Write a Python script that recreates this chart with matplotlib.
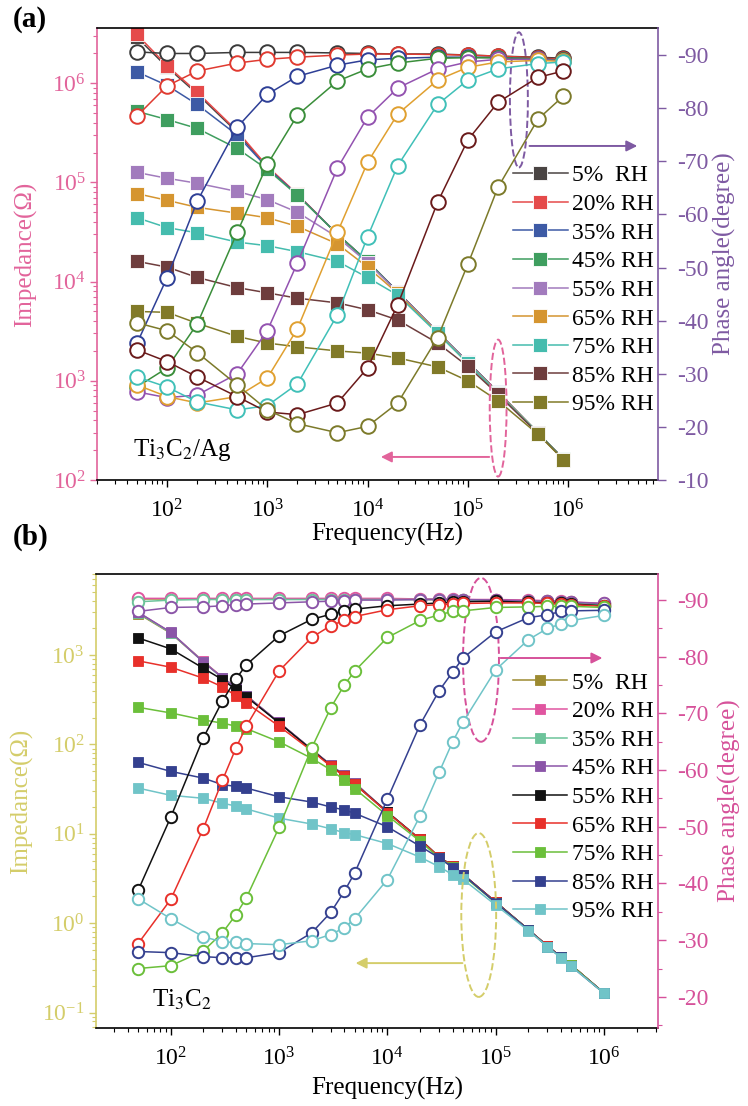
import matplotlib.pyplot as plt
from matplotlib.patches import Ellipse
from matplotlib.ticker import LogLocator, MultipleLocator, NullFormatter, NullLocator

plt.rcParams['font.family'] = ['Liberation Serif', 'DejaVu Serif']
plt.rcParams['mathtext.fontset'] = 'stix'
plt.rcParams['axes.unicode_minus'] = False

labels = ['5%  RH', '20% RH', '35% RH', '45% RH', '55% RH',
          '65% RH', '75% RH', '85% RH', '95% RH']

# ---- (a) Ti3C2/Ag ----
freq_a = [50, 100, 200, 500, 1e3, 2e3, 5e3, 1e4, 2e4, 5e4, 1e5, 2e5, 5e5, 9e5]

imp_a = [
    [2.9e6, 1.45e6, 7.8e5, 3.2e5, 1.42e5, 7.5e4, 3.0e4, 1.6e4, 7.9e3, 3.1e3, 1.55e3, 7.7e2, 3.0e2, 1.63e2],
    [3.1e6, 1.5e6, 8.1e5, 3.3e5, 1.45e5, 7.6e4, 3.0e4, 1.6e4, 7.9e3, 3.1e3, 1.55e3, 7.7e2, 3.0e2, 1.63e2],
    [1.3e6, 9.5e5, 6.1e5, 3.0e5, 1.4e5, 7.5e4, 3.0e4, 1.6e4, 7.9e3, 3.1e3, 1.55e3, 7.7e2, 3.0e2, 1.63e2],
    [5.2e5, 4.3e5, 3.5e5, 2.2e5, 1.35e5, 7.4e4, 3.0e4, 1.6e4, 7.8e3, 3.1e3, 1.55e3, 7.6e2, 3.0e2, 1.63e2],
    [1.26e5, 1.1e5, 9.8e4, 8.1e4, 6.7e4, 5.0e4, 2.8e4, 1.55e4, 7.8e3, 3.1e3, 1.55e3, 7.6e2, 3.0e2, 1.62e2],
    [7.7e4, 6.6e4, 5.6e4, 4.9e4, 4.4e4, 3.6e4, 2.4e4, 1.4e4, 7.6e3, 3.05e3, 1.5e3, 7.6e2, 3.0e2, 1.62e2],
    [4.4e4, 3.5e4, 3.1e4, 2.5e4, 2.3e4, 2.0e4, 1.6e4, 1.1e4, 7.3e3, 3.0e3, 1.5e3, 7.5e2, 3.0e2, 1.62e2],
    [1.6e4, 1.4e4, 1.1e4, 8.7e3, 7.7e3, 6.8e3, 6.1e3, 5.2e3, 4.1e3, 2.4e3, 1.4e3, 7.3e2, 2.95e2, 1.6e2],
    [5.0e3, 4.9e3, 3.8e3, 2.8e3, 2.4e3, 2.2e3, 2.0e3, 1.9e3, 1.7e3, 1.38e3, 1.0e3, 6.3e2, 2.9e2, 1.6e2],
]

phase_a = [
    [-90.6, -90.3, -90.3, -90.5, -90.5, -90.5, -90.4, -90.3, -90.2, -90.2, -90.0, -89.8, -89.6, -89.4],
    [-78.5, -84.2, -87.0, -88.5, -89.2, -89.6, -90.0, -90.2, -90.2, -90.1, -90.0, -89.8, -89.5, -89.2],
    [-35.7, -48.1, -62.5, -76.4, -82.6, -86.0, -88.1, -89.1, -89.4, -89.6, -89.6, -89.5, -89.3, -89.0],
    [-27.5, -31.1, -39.4, -56.6, -69.4, -78.7, -85.1, -87.4, -88.5, -89.4, -89.5, -89.5, -89.3, -89.0],
    [-26.6, -25.5, -26.0, -30.0, -38.1, -50.9, -68.7, -78.3, -83.8, -87.4, -88.7, -89.2, -89.2, -88.9],
    [-27.9, -25.7, -24.5, -25.7, -29.2, -38.5, -56.6, -69.8, -78.9, -85.3, -87.7, -88.7, -89.0, -88.8],
    [-29.4, -27.5, -24.7, -23.2, -24.0, -28.1, -41.1, -55.8, -69.2, -80.7, -85.3, -87.4, -88.4, -88.7],
    [-34.5, -32.3, -29.4, -25.7, -22.8, -22.3, -24.5, -31.1, -43.0, -62.3, -74.0, -81.1, -85.8, -87.0],
    [-39.6, -38.1, -34.0, -27.9, -23.2, -20.6, -18.9, -20.1, -24.5, -36.8, -50.6, -65.1, -77.9, -82.3],
]

# ---- (b) Ti3C2 ----
freq_b = [50, 100, 200, 300, 400, 500, 1e3, 2e3, 3e3, 4e3, 5e3, 1e4, 2e4, 3e4, 4e4, 5e4,
          1e5, 2e5, 3e5, 4e5, 5e5, 1e6]

imp_b = [
    [2.9e3, 1.75e3, 8.4e2, 5.6e2, 4.3e2, 3.5e2, 1.75e2, 88, 59, 45, 37, 17.5, 8.7, 5.5, 4.4, 3.5, 1.73, 0.85, 0.56, 0.42, 0.34, 0.166],
    [3.0e3, 1.78e3, 8.5e2, 5.6e2, 4.3e2, 3.5e2, 1.76e2, 88, 59, 45, 37, 17.5, 8.7, 5.5, 4.4, 3.5, 1.73, 0.85, 0.56, 0.42, 0.34, 0.166],
    [2.95e3, 1.77e3, 8.4e2, 5.5e2, 4.3e2, 3.5e2, 1.75e2, 88, 59, 45, 37, 17.5, 8.7, 5.5, 4.4, 3.5, 1.73, 0.85, 0.56, 0.42, 0.34, 0.166],
    [3.0e3, 1.8e3, 8.3e2, 5.6e2, 4.3e2, 3.5e2, 1.76e2, 88, 59, 45, 37, 17.5, 8.7, 5.5, 4.4, 3.5, 1.73, 0.85, 0.56, 0.42, 0.34, 0.166],
    [1.55e3, 1.17e3, 7.1e2, 5.3e2, 4.1e2, 3.4e2, 1.74e2, 87, 58, 44, 36, 17.5, 8.7, 5.5, 4.4, 3.5, 1.73, 0.85, 0.56, 0.42, 0.34, 0.166],
    [8.6e2, 7.3e2, 5.5e2, 4.4e2, 3.5e2, 2.9e2, 1.6e2, 85, 57, 44, 36, 17.3, 8.7, 5.5, 4.4, 3.5, 1.73, 0.85, 0.56, 0.42, 0.34, 0.166],
    [2.6e2, 2.25e2, 1.88e2, 1.73e2, 1.6e2, 1.5e2, 1.07e2, 70, 52, 40, 32, 16, 8.3, 5.4, 4.3, 3.4, 1.7, 0.85, 0.55, 0.42, 0.34, 0.166],
    [63, 50, 42, 35.5, 34, 32.5, 26, 22.7, 20, 18.5, 17, 12, 7.3, 5.4, 4.2, 3.5, 1.7, 0.85, 0.55, 0.42, 0.33, 0.166],
    [32.5, 27, 25, 22, 20.5, 19, 15, 12.9, 11.4, 10.3, 9.8, 7.8, 5.5, 4.3, 3.5, 3.1, 1.6, 0.83, 0.55, 0.41, 0.33, 0.165],
]

phase_b = [
    [-90.2, -90.2, -90.2, -90.2, -90.2, -90.2, -90.2, -90.2, -90.2, -90.2, -90.2, -90.2, -90.1, -90.1, -90.1, -90.0, -90.0, -89.9, -89.8, -89.7, -89.6, -89.3],
    [-90.3, -90.3, -90.3, -90.3, -90.3, -90.3, -90.3, -90.3, -90.3, -90.3, -90.3, -90.3, -90.2, -90.2, -90.2, -90.1, -90.1, -90.0, -89.9, -89.8, -89.7, -89.4],
    [-89.7, -90.0, -90.1, -90.1, -90.1, -90.1, -90.1, -90.1, -90.1, -90.1, -90.1, -90.1, -90.1, -90.1, -90.0, -90.0, -89.9, -89.8, -89.7, -89.6, -89.5, -89.1],
    [-88.0, -88.7, -88.8, -89.0, -89.2, -89.3, -89.5, -89.7, -89.8, -89.9, -90.0, -90.0, -90.1, -90.1, -90.1, -90.1, -90.0, -89.9, -89.8, -89.7, -89.6, -89.4],
    [-38.8, -51.7, -65.7, -72.2, -76.1, -78.6, -83.7, -86.6, -87.5, -88.1, -88.4, -89.0, -89.3, -89.5, -89.6, -89.7, -89.8, -89.6, -89.5, -89.4, -89.3, -89.0],
    [-29.4, -37.2, -49.7, -58.2, -63.9, -67.8, -77.5, -83.4, -85.5, -86.4, -87.1, -88.3, -89.0, -89.2, -89.3, -89.4, -89.5, -89.5, -89.4, -89.3, -89.2, -88.9],
    [-25.0, -25.5, -28.1, -31.3, -34.5, -37.5, -49.9, -63.9, -71.0, -75.0, -77.5, -83.4, -86.4, -87.4, -88.0, -88.1, -88.7, -88.8, -88.9, -88.9, -88.9, -88.7],
    [-28.0, -27.8, -27.1, -26.9, -26.9, -26.9, -27.8, -31.3, -34.9, -38.6, -41.9, -54.9, -68.0, -74.0, -77.3, -79.8, -84.4, -86.9, -87.4, -88.0, -88.1, -88.2],
    [-37.3, -33.8, -30.6, -29.7, -29.6, -29.4, -29.2, -29.9, -31.0, -32.2, -33.8, -40.7, -51.9, -59.6, -65.0, -68.5, -77.7, -83.0, -85.0, -85.8, -86.4, -87.3],
]

sq_colors_a = ['#4a4443', '#e54a4a', '#3d5aa5', '#3f9e5f', '#a27bbd',
               '#d59530', '#45bcae', '#6e3d3d', '#817a28']
ci_colors_a = ['#3a3a3a', '#e03a30', '#2e3f96', '#3a8e3a', '#9352b0',
               '#e0a030', '#40c0b8', '#6a1a1a', '#7c7a2a']
colors_b = ['#9c8a30', '#e055a0', '#6cc39a', '#8b55a8', '#111111',
            '#e8302a', '#6bbf3a', '#34408f', '#70c4c8']

pink_a, purple_a = '#e2649b', '#7e5aa2'
yellow_b, pink_b = '#d4cd6a', '#d6519a'


def draw_panel(ax, freq, imp, phase, sq_colors, ci_colors, ms_sq, ms_ci, sq_edge):
    ax2 = ax.twinx()
    handles = []
    for i in range(len(labels)):
        mec = sq_edge if sq_edge else sq_colors[i]
        h, = ax.plot(freq, imp[i], '-s', color=sq_colors[i], ms=ms_sq, mec=mec,
                     mew=0.6, lw=1.1, label=labels[i])
        handles.append(h)
        ax2.plot(freq, phase[i], '-o', color=ci_colors[i], mfc='white',
                 ms=ms_ci, mew=1.4, lw=1.1)
    ax.set_xscale('log')
    ax.set_yscale('log')
    ax.xaxis.set_major_locator(LogLocator(base=10))
    ax.xaxis.set_minor_locator(LogLocator(base=10, subs=range(2, 10)))
    ax.xaxis.set_minor_formatter(NullFormatter())
    ax.yaxis.set_major_locator(LogLocator(base=10))
    ax.yaxis.set_minor_locator(LogLocator(base=10, subs=range(2, 10)))
    ax.yaxis.set_minor_formatter(NullFormatter())
    ax.tick_params(axis='both', which='major', direction='out', length=5, width=1,
                   labelsize=17)
    ax.tick_params(axis='both', which='minor', direction='out', length=3, width=0.8)
    ax.tick_params(axis='x', pad=9)
    ax.tick_params(axis='y', pad=3)
    ax2.tick_params(axis='y', which='major', direction='out', length=6, width=1,
                    labelsize=17, pad=7.5)
    ax2.tick_params(axis='y', which='minor', direction='out', length=3, width=0.8)
    ax.spines['right'].set_visible(False)
    for s in ['left', 'top', 'bottom']:
        ax2.spines[s].set_visible(False)
    for s in ax.spines.values():
        s.set_linewidth(1.2)
    ax2.spines['right'].set_linewidth(1.2)
    ax.set_xlabel('Frequency(Hz)', fontsize=18)
    return ax2, handles


def style_sides(ax, ax2, left_color, right_color):
    ax.spines['left'].set_color(left_color)
    ax.tick_params(axis='y', which='both', colors=left_color)
    ax2.spines['right'].set_color(right_color)
    ax2.tick_params(axis='y', which='both', colors=right_color)
    ax.yaxis.label.set_color(left_color)
    ax2.yaxis.label.set_color(right_color)


fig = plt.figure(figsize=(7.48, 11.06), dpi=100)

# panel (a)
ax_a = fig.add_axes([0.1297, 0.566, 0.7500, 0.4087])
ax2_a, hd_a = draw_panel(ax_a, freq_a, imp_a, phase_a, sq_colors_a, ci_colors_a,
                         ms_sq=9.5, ms_ci=10.5, sq_edge='white')
ax_a.set_xlim(20, 7.9e6)
ax_a.set_ylim(1e2, 3.6e6)
ax2_a.set_ylim(-10, -95.1)
ax2_a.yaxis.set_major_locator(MultipleLocator(10))
ax2_a.yaxis.set_minor_locator(NullLocator())
ax_a.set_ylabel('Impedance(Ω)', fontsize=18)
ax2_a.set_ylabel('Phase angle(degree)', fontsize=18)
style_sides(ax_a, ax2_a, pink_a, purple_a)
ax_a.yaxis.set_label_coords(-0.107, 0.5)
ax2_a.yaxis.set_label_coords(1.098, 0.5)
ax_a.xaxis.set_label_coords(0.517, -0.095)
ax2_a.legend(handles=hd_a, loc='upper left', bbox_to_anchor=(0.742, 0.697),
             frameon=False, fontsize=17, borderpad=0, borderaxespad=0,
             handlelength=2.3, handletextpad=0.2, labelspacing=0.3)
ax_a.text(0.064, 0.066, r'Ti$_3$C$_2$/Ag', transform=ax_a.transAxes, fontsize=18,
          va='center', ha='left')
ax2_a.add_patch(Ellipse((0.752, 0.841), 0.032, 0.299, transform=ax2_a.transAxes,
                        fill=False, ls='--', ec=purple_a, lw=1.4))
ax2_a.annotate('', xy=(0.968, 0.739), xytext=(0.766, 0.739), xycoords='axes fraction',
               arrowprops=dict(arrowstyle='-|>', color=purple_a, lw=1.4, mutation_scale=16))
ax2_a.add_patch(Ellipse((0.715, 0.159), 0.030, 0.303, transform=ax2_a.transAxes,
                        fill=False, ls='--', ec=pink_a, lw=1.4))
ax2_a.annotate('', xy=(0.501, 0.051), xytext=(0.704, 0.051), xycoords='axes fraction',
               arrowprops=dict(arrowstyle='-|>', color=pink_a, lw=1.4, mutation_scale=16))

# panel (b)
ax_b = fig.add_axes([0.1283, 0.0705, 0.7514, 0.4105])
ax2_b, hd_b = draw_panel(ax_b, freq_b, imp_b, phase_b, colors_b, colors_b,
                         ms_sq=7.5, ms_ci=8.2, sq_edge=None)
ax_b.set_xlim(20.4, 3.15e6)
ax_b.set_ylim(10 ** -1.17, 10 ** 3.905)
ax2_b.set_ylim(-14.5, -94.6)
ax2_b.yaxis.set_major_locator(MultipleLocator(10))
ax2_b.yaxis.set_minor_locator(MultipleLocator(5))
ax_b.set_ylabel('Impedance(Ω)', fontsize=18)
ax2_b.set_ylabel('Phase angle(degree)', fontsize=18)
style_sides(ax_b, ax2_b, yellow_b, pink_b)
ax_b.yaxis.set_label_coords(-0.112, 0.5)
ax2_b.yaxis.set_label_coords(1.107, 0.5)
ax_b.xaxis.set_label_coords(0.518, -0.108)
ax2_b.legend(handles=hd_b, loc='upper left', bbox_to_anchor=(0.742, 0.784),
             frameon=False, fontsize=17, borderpad=0, borderaxespad=0,
             handlelength=2.3, handletextpad=0.2, labelspacing=0.3)
ax_b.text(0.0996, 0.062, r'Ti$_3$C$_2$', transform=ax_b.transAxes, fontsize=18,
          va='center', ha='left')
ax2_b.add_patch(Ellipse((0.685, 0.811), 0.064, 0.361, transform=ax2_b.transAxes,
                        fill=False, ls='--', ec=pink_b, lw=1.4))
ax2_b.annotate('', xy=(0.906, 0.815), xytext=(0.715, 0.815), xycoords='axes fraction',
               arrowprops=dict(arrowstyle='-|>', color=pink_b, lw=1.4, mutation_scale=16))
ax2_b.add_patch(Ellipse((0.681, 0.249), 0.062, 0.361, transform=ax2_b.transAxes,
                        fill=False, ls='--', ec=yellow_b, lw=1.4))
ax2_b.annotate('', xy=(0.457, 0.143), xytext=(0.657, 0.143), xycoords='axes fraction',
               arrowprops=dict(arrowstyle='-|>', color=yellow_b, lw=1.4, mutation_scale=16))

fig.text(0.017, 0.982, '(a)', fontsize=21, fontweight='bold', va='center')
fig.text(0.017, 0.5145, '(b)', fontsize=21, fontweight='bold', va='center')

fig.savefig('out.png', dpi=100)
